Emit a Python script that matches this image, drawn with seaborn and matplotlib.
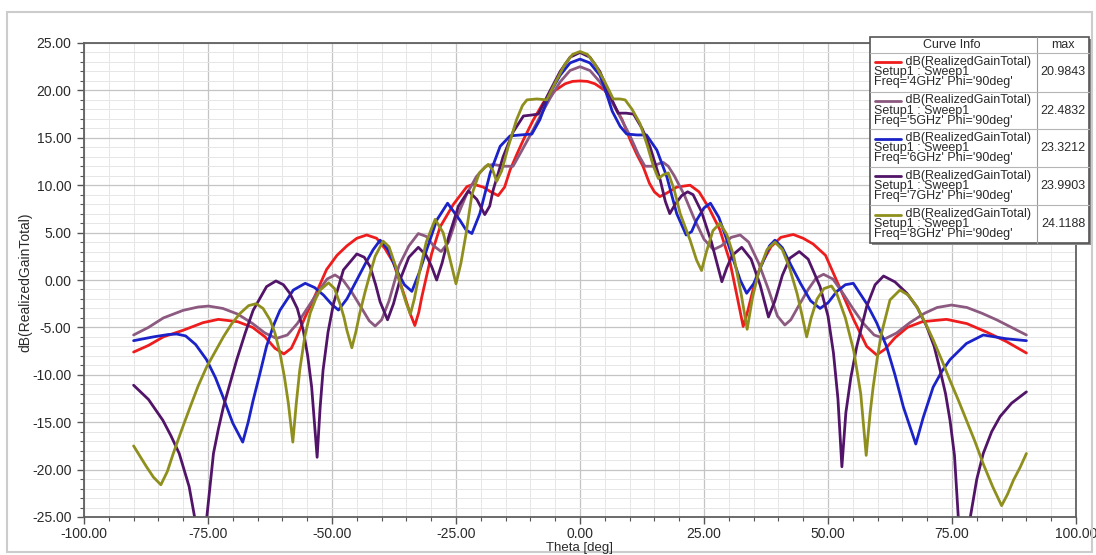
import matplotlib
matplotlib.use("Agg")
import matplotlib.pyplot as plt
import numpy as np
import pandas as pd
import seaborn as sns
from matplotlib.ticker import MultipleLocator, FormatStrFormatter
from matplotlib.patches import Rectangle

# ---------------- data (theta [deg], gain [dB]) ----------------
series_names = ["4GHz", "5GHz", "6GHz", "7GHz", "8GHz"]
max_values = ["20.9843", "22.4832", "23.3212", "23.9903", "24.1188"]
series_colors = ["#ee1c1c", "#8c5a80", "#1a22c8", "#521468", "#8f8f1e"]

gain_4ghz = [(-90, -7.6), (-87, -6.9), (-84, -6.0), (-80, -5.3), (-76, -4.5), (-72.9, -4.15), (-69, -4.4),
             (-66, -5.0), (-63.5, -6.0), (-61.5, -7.2), (-59.7, -7.8), (-58.2, -7.2), (-57.1, -6.0),
             (-55.5, -4.0), (-53.8, -2.1), (-51.1, 1.1), (-49, 2.6), (-47, 3.6), (-45, 4.4), (-43, 4.75),
             (-41, 4.4), (-39.3, 3.3), (-37.6, 1.8), (-35.3, -1.8), (-34.2, -3.6), (-33.3, -4.8),
             (-32.5, -3.4), (-31.9, -1.8), (-29.9, 2.8), (-28.2, 5.6), (-25.5, 8.0), (-22.8, 9.85),
             (-21.5, 10.1), (-19.5, 9.8), (-18, 9.3), (-16.5, 8.9), (-15.2, 9.8), (-14.1, 11.6),
             (-12.7, 13.3), (-11.4, 14.8), (-9.5, 16.8), (-7.4, 18.7), (-5, 20.0), (-3, 20.7),
             (-1.5, 20.95), (0, 21.0), (1.5, 20.95), (3, 20.7), (5, 20.0), (6.7, 18.6), (8.5, 16.9),
             (10.1, 14.8), (11.5, 13.2), (12.7, 12.0), (14, 10.2), (15, 9.3), (16.1, 8.8), (17.6, 9.2),
             (19.5, 9.8), (22.2, 10.0), (24, 9.3), (26, 7.6), (28.2, 5.3), (30.2, 2.0), (31.7, -1.8),
             (32.9, -4.9), (33.8, -3.3), (34.9, -1.0), (36.5, 1.6), (38.5, 3.5), (40.5, 4.5), (43, 4.8),
             (45, 4.4), (47, 3.8), (49.5, 2.6), (51.1, 0.7), (53.2, -1.8), (55.2, -4.2), (57.8, -7.0),
             (59.8, -7.9), (61.5, -7.3), (63.5, -6.1), (66, -5.0), (69, -4.4), (73.9, -4.15), (78, -4.6),
             (82, -5.5), (86, -6.5), (90, -7.7)]

gain_5ghz = [(-90, -5.8), (-87, -5.0), (-84, -4.0), (-80, -3.2), (-77, -2.85), (-74.9, -2.75), (-72, -3.0),
             (-69, -3.6), (-66, -4.6), (-63.5, -5.6), (-61.2, -6.16), (-59, -5.8), (-57, -4.6), (-55, -3.0),
             (-53, -1.4), (-51, 0.1), (-49.4, 0.53), (-47.8, 0.0), (-46, -1.3), (-44, -3.0), (-42.5, -4.3),
             (-41.3, -4.86), (-40, -4.2), (-38.5, -2.2), (-36.5, 1.5), (-34.5, 3.6), (-32.6, 4.9),
             (-31, 4.6), (-29.5, 3.6), (-28, 3.0), (-26.5, 4.0), (-24.9, 6.5), (-22.9, 9.0), (-20.9, 10.9),
             (-19, 12.0), (-17.5, 12.2), (-15.5, 12.0), (-13.5, 12.0), (-12, 13.4), (-10.1, 15.2),
             (-8, 17.3), (-6, 19.2), (-4, 20.9), (-2, 22.1), (0, 22.5), (2, 22.1), (4, 20.9), (6, 19.2),
             (8, 17.3), (10, 15.3), (11.8, 13.2), (13.1, 12.0), (14.5, 12.0), (16.1, 12.3), (16.8, 12.4),
             (17.8, 12.0), (19, 11.0), (21, 9.0), (23, 6.5), (25, 4.3), (26.9, 3.2), (28.5, 3.6),
             (30.5, 4.5), (32.3, 4.75), (34, 4.0), (36, 1.8), (38, -1.0), (39.8, -3.8), (41.3, -4.75),
             (42.5, -4.2), (44, -2.8), (46, -1.0), (47.6, 0.2), (49.1, 0.6), (51, 0.1), (53, -1.4),
             (55, -3.0), (57, -4.5), (59.3, -5.8), (61.5, -6.2), (63.8, -5.6), (66.5, -4.5), (69.5, -3.5),
             (72, -2.9), (74.9, -2.64), (78, -2.9), (81, -3.5), (84, -4.2), (87, -5.0), (90, -5.8)]

gain_6ghz = [(-90, -6.4), (-86, -6.0), (-83, -5.75), (-81.3, -5.7), (-79.5, -5.9), (-77.5, -6.8),
             (-75.3, -8.4), (-73.5, -10.3), (-72, -12.3), (-70, -15.1), (-68, -17.1), (-66.9, -15.0),
             (-65.9, -12.7), (-64.5, -9.8), (-63.2, -7.0), (-61.8, -4.8), (-60.5, -3.2), (-57.8, -1.06),
             (-55.4, -0.35), (-53.5, -0.8), (-51.7, -1.6), (-50, -2.6), (-48.7, -3.17), (-47, -2.0),
             (-45, 0.0), (-43.3, 1.7), (-41.7, 3.2), (-40.3, 4.2), (-38.7, 3.2), (-37, 1.06), (-35.4, -0.5),
             (-33.9, -1.2), (-32.4, 0.8), (-30.9, 3.2), (-28.9, 6.3), (-26.7, 8.1), (-24.2, 6.3),
             (-23, 5.3), (-21.8, 4.9), (-20.2, 7.0), (-18.1, 11.3), (-16.1, 14.1), (-14.1, 15.2),
             (-12, 15.3), (-9.7, 15.4), (-8.1, 16.9), (-6.1, 19.7), (-4, 21.6), (-2, 22.9), (0, 23.3),
             (2, 22.9), (4, 21.6), (5, 20.2), (6.5, 17.8), (8.1, 16.2), (9.4, 15.4), (11.5, 15.3),
             (13.4, 15.3), (15.5, 13.7), (17.5, 10.9), (19.5, 7.0), (21.4, 4.75), (22.5, 5.1), (23.5, 6.3),
             (25, 7.6), (26.3, 8.1), (28, 6.6), (29.5, 4.4), (31, 2.0), (32.3, 0.0), (33.6, -1.4),
             (35, -0.4), (36.8, 1.8), (38.2, 3.6), (39.3, 4.2), (40.8, 3.4), (42.5, 1.6), (44.5, -0.4),
             (46.5, -2.2), (48.4, -3.0), (50, -2.4), (51.8, -1.2), (53.5, -0.5), (55.1, -0.35),
             (57.8, -2.5), (59.8, -4.5), (61.8, -7.0), (63.5, -10.0), (65.2, -13.4), (67.7, -17.3),
             (69.2, -14.5), (71.2, -11.3), (73, -9.6), (74.6, -8.4), (77.9, -6.7), (81.3, -5.8),
             (86, -6.2), (90, -6.4)]

gain_7ghz = [(-90, -11.1), (-87, -12.6), (-84.1, -14.8), (-82.5, -16.4), (-80.8, -18.3), (-78.8, -21.8),
             (-77.6, -25.3), (-76.5, -33.0), (-75.3, -25.3), (-73.9, -18.3), (-72.9, -15.7), (-71.9, -13.4),
             (-70.5, -10.8), (-69.2, -8.4), (-67.5, -5.6), (-65.9, -3.2), (-63.2, -0.7), (-61.3, -0.1),
             (-59.8, -0.5), (-58.5, -1.4), (-57, -3.0), (-55.8, -5.3), (-54.9, -8.0), (-54.1, -11.3),
             (-53, -18.7), (-52.4, -13.5), (-51.8, -9.5), (-50.8, -5.5), (-49.7, -2.5), (-47.7, 1.06),
             (-45, 2.75), (-43.5, 2.4), (-42.3, 1.4), (-41.2, -0.5), (-40.3, -2.3), (-38.8, -4.2),
             (-37.6, -2.5), (-36.3, 0.0), (-34.5, 2.4), (-32.6, 3.45), (-31, 2.6), (-29.9, 1.4),
             (-28.9, 0.0), (-27.8, 1.8), (-26.5, 4.5), (-24.5, 7.8), (-22.5, 9.4), (-20.8, 8.5),
             (-19.2, 6.9), (-18.2, 7.8), (-17.5, 9.5), (-15.5, 13.0), (-13.5, 15.6), (-11.4, 17.3),
             (-9.8, 17.4), (-8.4, 17.5), (-6.5, 19.5), (-4, 22.0), (-2, 23.5), (0, 24.0), (2, 23.5),
             (4, 22.0), (6, 19.5), (7.7, 17.6), (9.3, 17.6), (10.8, 17.5), (12.5, 16.0), (14.1, 14.1),
             (16.2, 10.5), (17.2, 8.3), (18.1, 7.0), (19.2, 8.0), (20.5, 8.9), (21.7, 9.3), (22.8, 9.0),
             (24.5, 7.2), (26.5, 4.0), (27.6, 1.8), (28.6, -0.18), (29.6, 1.3), (30.7, 2.6), (32.6, 3.45),
             (34.5, 2.2), (36.3, -0.5), (38, -3.9), (39.3, -2.2), (40.8, 0.5), (42.3, 2.3), (44.2, 3.0),
             (46, 2.2), (48.4, -0.7), (50, -3.8), (51.1, -7.7), (52, -12.5), (52.8, -19.7), (53.6, -14.0),
             (54.6, -10.3), (55.8, -7.0), (57.8, -2.8), (59.5, -0.5), (61.2, 0.42), (63.5, -0.2),
             (65.9, -1.4), (68, -2.9), (69.9, -4.9), (71.4, -7.0), (72.6, -9.5), (73.7, -12.0),
             (74.6, -14.8), (75.5, -18.5), (76.3, -25.3), (77.4, -33.0), (78.6, -25.3), (80, -21.0),
             (81.3, -18.3), (83, -16.0), (84.7, -14.4), (87, -13.0), (90, -11.8)]

gain_8ghz = [(-90, -17.5), (-88.7, -18.6), (-87.4, -19.7), (-86, -20.8), (-84.5, -21.6), (-83.2, -20.2),
             (-82, -18.3), (-80.3, -15.8), (-78.6, -13.4), (-77, -11.2), (-75.3, -9.2), (-73.5, -7.5),
             (-71.9, -6.0), (-70.2, -4.6), (-68.5, -3.5), (-66.8, -2.7), (-65.3, -2.5), (-63.9, -3.0),
             (-62.5, -4.2), (-61.5, -5.6), (-60.5, -7.7), (-59.6, -10.2), (-58.8, -13.0), (-57.9, -17.1),
             (-57.2, -13.0), (-56.5, -9.5), (-55.5, -6.0), (-54.4, -3.5), (-53.3, -2.0), (-52.4, -1.06),
             (-50.7, -0.3), (-49.5, -0.9), (-48.4, -2.5), (-47.6, -3.9), (-47, -5.3), (-46, -7.15),
             (-45.2, -5.5), (-44.4, -3.5), (-43.3, -1.2), (-42.3, 0.7), (-41.3, 2.5), (-39.7, 4.1),
             (-38.5, 3.5), (-37.2, 1.5), (-36, -0.8), (-35, -2.5), (-34.2, -3.6), (-33.4, -2.0),
             (-32.3, 1.0), (-31, 4.0), (-29.2, 6.4), (-27.6, 5.0), (-26.5, 2.8), (-25, -0.4), (-24, 1.8),
             (-23, 4.8), (-21.8, 9.0), (-20.3, 11.3), (-18.5, 12.2), (-17.6, 11.6), (-16.8, 10.4),
             (-15.8, 11.5), (-14.5, 14.0), (-12.8, 16.9), (-11.6, 18.4), (-10.7, 19.0), (-8.7, 19.1),
             (-6.7, 19.0), (-5, 20.8), (-3, 22.8), (-1.5, 23.8), (0, 24.1), (1.5, 23.8), (3, 22.8),
             (5, 20.9), (6.7, 19.1), (8, 19.1), (9.1, 19.0), (10.5, 18.0), (12.1, 16.5), (13.5, 14.3),
             (14.8, 12.0), (15.8, 10.7), (16.8, 11.1), (17.8, 11.3), (19, 9.5), (20.2, 7.0), (21.2, 5.6),
             (22.2, 4.2), (23.5, 2.1), (24.5, 1.0), (25.5, 3.0), (26.8, 5.2), (28.2, 6.0), (29.6, 4.8),
             (31, 2.5), (32.5, -1.5), (33.7, -5.2), (34.8, -1.8), (36, 0.8), (37.7, 3.2), (39.3, 4.0),
             (40.8, 3.2), (42.3, 1.2), (43.8, -1.5), (44.8, -3.8), (45.7, -6.0), (46.6, -4.0),
             (47.8, -2.0), (49.2, -0.9), (50.7, -0.63), (51.8, -1.5), (53.5, -4.0), (55.2, -7.5),
             (56.6, -12.0), (57.7, -18.5), (58.5, -14.0), (59.1, -11.3), (60, -8.0), (60.8, -5.6),
             (62.5, -2.1), (64.5, -1.06), (66.2, -1.6), (67.9, -2.8), (69.5, -4.4), (71.2, -6.3),
             (72.9, -8.4), (74.6, -10.6), (76.3, -12.7), (77.9, -14.8), (79.6, -17.0), (81.3, -19.4),
             (83.2, -21.8), (85, -23.8), (86.2, -22.6), (87.4, -21.1), (88.7, -19.8), (90, -18.3)]

x_ticks = [-100, -75, -50, -25, 0, 25, 50, 75, 100]
y_ticks = [-25, -20, -15, -10, -5, 0, 5, 10, 15, 20, 25]

# ---------------- build long-form table ----------------
frames = []
for name, pts in zip(series_names, [gain_4ghz, gain_5ghz, gain_6ghz, gain_7ghz, gain_8ghz]):
    d = pd.DataFrame(pts, columns=["theta", "gain"])
    d["freq"] = name
    frames.append(d)
df = pd.concat(frames, ignore_index=True)

sns.set_style("white")
plt.rcParams["font.family"] = ["Liberation Sans", "DejaVu Sans"]

W, H = 1096, 555
fig = plt.figure(figsize=(W / 100, H / 100), dpi=100)
fig.patch.set_facecolor("white")
ax_l, ax_r, ax_t, ax_b = 84, 1076, 43, 517
ax = fig.add_axes([ax_l / W, 1 - ax_b / H, (ax_r - ax_l) / W, (ax_b - ax_t) / H])

sns.lineplot(data=df, x="theta", y="gain", hue="freq", hue_order=series_names,
             palette=series_colors, estimator=None, legend=False, linewidth=2.0,
             solid_joinstyle="round", ax=ax)

ax.set_xlim(-100, 100)
ax.set_ylim(-25, 25)
ax.set_xticks(x_ticks)
ax.set_yticks(y_ticks)
ax.xaxis.set_minor_locator(MultipleLocator(5))
ax.yaxis.set_minor_locator(MultipleLocator(1))
ax.xaxis.set_major_formatter(FormatStrFormatter("%.2f"))
ax.yaxis.set_major_formatter(FormatStrFormatter("%.2f"))
ax.set_xlabel("")
ax.set_ylabel("")
ax.set_axisbelow(True)
ax.grid(which="major", color="#c4c4c4", linewidth=0.9)
ax.grid(which="minor", color="#e6e6e6", linewidth=0.7)
ax.tick_params(which="major", direction="out", length=5, width=1.0, color="#555555",
               labelsize=10, labelcolor="#2a2a2a", pad=4, left=True, bottom=True)
ax.tick_params(axis="x", which="major", pad=2)
ax.tick_params(which="minor", direction="out", length=3, width=0.8, color="#555555",
               left=True, bottom=True)
for side, sp in ax.spines.items():
    sp.set_color("#606060")
    sp.set_linewidth(1.3)

# ---------------- overlay: frame, labels, curve-info table ----------------
ov = fig.add_axes([0, 0, 1, 1])
ov.set_xlim(0, W)
ov.set_ylim(H, 0)
ov.axis("off")

ov.add_patch(Rectangle((7, 12), 1085, 540, fill=False, ec="#cccccc", lw=1.5, zorder=1))
ov.text(25, 282, "dB(RealizedGainTotal)", rotation=90, ha="center", va="center",
        fontsize=10, color="#2a2a2a")
ov.text(580, 548, "Theta [deg]", ha="center", va="center", fontsize=9.5, color="#2a2a2a")

L, T, R, B = 870, 36.7, 1089.3, 242.7
ov.add_patch(Rectangle((L + 2, T + 2), R - L, B - T, fc="#8a8a8a", ec="none", zorder=3))
ov.add_patch(Rectangle((L, T), R - L, B - T, fc="white", ec="#555555", lw=1.2, zorder=4))
col_x = 1036.7
ov.plot([col_x, col_x], [T, B], color="#9a9a9a", lw=0.8, zorder=5)
row_tops = [52.7, 91.7, 129.3, 166.7, 205.0]
for y in row_tops:
    ov.plot([L, R], [y, y], color="#b5b5b5", lw=0.8, zorder=5)
ov.text(952, 44.7, "Curve Info", ha="center", va="center", fontsize=9, color="#2a2a2a", zorder=6)
ov.text(1063, 44.7, "max", ha="center", va="center", fontsize=9, color="#2a2a2a", zorder=6)
for i, (name, col, mx) in enumerate(zip(series_names, series_colors, max_values)):
    t = row_tops[i]
    ov.plot([875, 901], [t + 9.5, t + 9.5], color=col, lw=2.0, zorder=6)
    block = ("         dB(RealizedGainTotal)\n"
             "Setup1 : Sweep1\n"
             f"Freq='{name}' Phi='90deg'")
    ov.text(874, t + 19.0, block, ha="left", va="center", multialignment="left",
            fontsize=9, linespacing=0.8, color="#2a2a2a", zorder=6)
    ov.text(1063, t + 19, mx, ha="center", va="center", fontsize=9, color="#2a2a2a", zorder=6)

fig.savefig("out.png", dpi=100, facecolor="white")
